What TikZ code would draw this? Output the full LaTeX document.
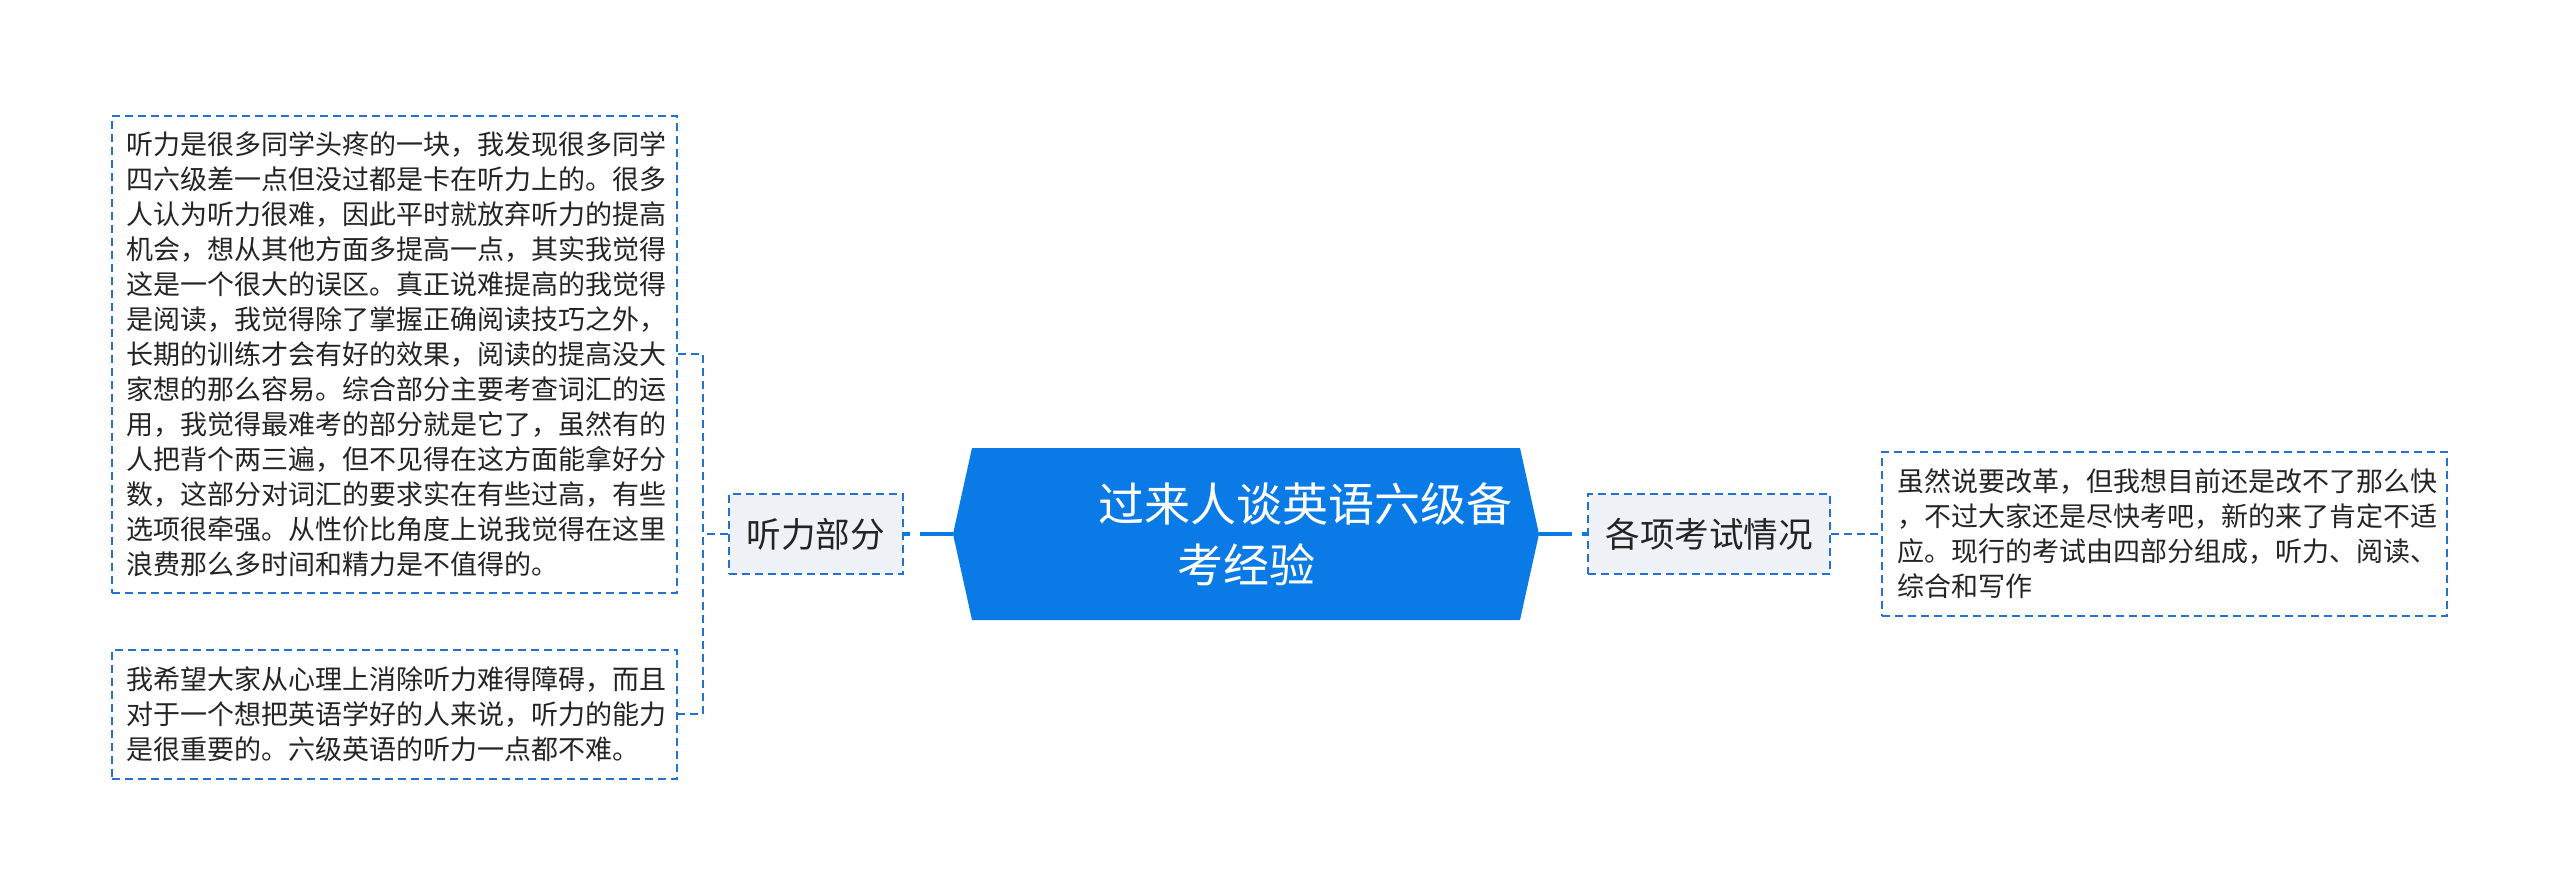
\documentclass[tikz,border=0pt]{standalone}
\usepackage{fontspec}
\setmainfont{Noto Sans CJK SC}
\usepackage{xcolor}
\usetikzlibrary{positioning}
\definecolor{hubblue}{RGB}{10,123,230}
\definecolor{dashblue}{RGB}{36,114,206}
\definecolor{tagfill}{RGB}{238,241,245}
\definecolor{inkgray}{RGB}{36,36,36}
\tikzstyle{topic} = [
    rectangle,
    minimum width=586pt,
    minimum height=172pt,
    inner sep=0pt,
    align=center,
    text=white,
    font=\fontsize{46}{61}\selectfont,
    path picture={
        \fill[hubblue] (path picture bounding box.west)
        -- ([xshift=19pt]path picture bounding box.north west)
        -- ([xshift=-19pt]path picture bounding box.north east)
        -- (path picture bounding box.east)
        -- ([xshift=-19pt]path picture bounding box.south east)
        -- ([xshift=19pt]path picture bounding box.south west)
        -- cycle;
    }
]
\tikzstyle{tag} = [
    rectangle,
    draw=dashblue,
    fill=tagfill,
    line width=2pt,
    dash pattern=on 8pt off 5pt,
    minimum height=80pt,
    inner xsep=17pt,
    text=inkgray,
    font=\fontsize{34.6}{40}\selectfont
]
\tikzstyle{note} = [
    rectangle,
    draw=dashblue,
    line width=2pt,
    dash pattern=on 8pt off 5pt,
    minimum width=565pt,
    inner xsep=15pt,
    inner ysep=0pt,
    text width=535pt,
    align=left,
    text=inkgray,
    font=\fontsize{27}{35}\selectfont
]
\tikzstyle{trunk} = [
    line width=4pt,
    draw=hubblue,
    dash pattern=on 33pt off 10pt
]
\tikzstyle{twig} = [
    line width=2pt,
    draw=dashblue,
    dash pattern=on 8pt off 5pt
]

\begin{document}
\begin{tikzpicture}[
    x=1pt,
    y=-1pt
]
\useasboundingbox (0,0) rectangle (2560,895);

\node (title) [topic] at (1246,534)
{\hspace*{118pt}过来人谈英语六级备\\考经验};

\node (listen) [tag, minimum width=174pt, left=49pt of title]
{听力部分};

\node (exam) [tag, minimum width=242pt, right=48pt of title]
{各项考试情况};

\node (examnote) [note, minimum height=164pt, right=50pt of exam]
{虽然说要改革，但我想目前还是改不了那么快\\
，不过大家还是尽快考吧，新的来了肯定不适\\
应。现行的考试由四部分组成，听力、阅读、\\
综合和写作};

\node (listennote) [note, minimum height=477pt, left=50pt of listen, yshift=180pt]
{听力是很多同学头疼的一块，我发现很多同学\\
四六级差一点但没过都是卡在听力上的。很多\\
人认为听力很难，因此平时就放弃听力的提高\\
机会，想从其他方面多提高一点，其实我觉得\\
这是一个很大的误区。真正说难提高的我觉得\\
是阅读，我觉得除了掌握正确阅读技巧之外，\\
长期的训练才会有好的效果，阅读的提高没大\\
家想的那么容易。综合部分主要考查词汇的运\\
用，我觉得最难考的部分就是它了，虽然有的\\
人把背个两三遍，但不见得在这方面能拿好分\\
数，这部分对词汇的要求实在有些过高，有些\\
选项很牵强。从性价比角度上说我觉得在这里\\
浪费那么多时间和精力是不值得的。};

\node (listenhint) [note, minimum height=129pt, left=50pt of listen, yshift=-180pt]
{我希望大家从心理上消除听力难得障碍，而且\\
对于一个想把英语学好的人来说，听力的能力\\
是很重要的。六级英语的听力一点都不难。};

\coordinate [left=25pt of listen.west] (fork);

\draw [trunk] (title.west) -- (listen.east);

\draw [trunk] (title.east) -- (exam.west);

\draw [twig] (exam.east) -- (examnote.west);

\draw [twig] (listen.west) -- (fork);

\draw [twig]
(listennote.east) -| (fork) |- (listenhint.east);

\end{tikzpicture}
\end{document}
